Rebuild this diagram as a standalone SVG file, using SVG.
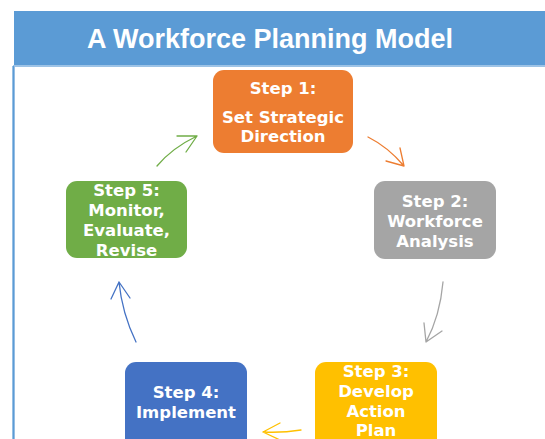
<svg xmlns="http://www.w3.org/2000/svg" width="545" height="439" viewBox="0 0 545 439">
  <style>
    .title { font-family: "Liberation Sans", Arial, sans-serif; font-weight: bold; font-size: 27px; fill: #ffffff; text-anchor: middle; }
    .lbl { font-family: "DejaVu Sans", Verdana, sans-serif; font-weight: bold; font-size: 16.5px; fill: #ffffff; text-anchor: middle; }
    .box { stroke: none; }
    .conn path { fill: none; stroke-width: 1.3; stroke-linecap: round; stroke-linejoin: round; }
  </style>

  <rect x="0" y="0" width="545" height="439" fill="#ffffff"/>

  <!-- header band -->
  <g id="header">
    <rect x="14" y="11" width="531" height="55" fill="#5B9BD5"/>
    <text class="title" x="270" y="48">A Workforce Planning Model</text>
  </g>

  <!-- frame around the content area -->
  <g id="frame">
    <line x1="13" y1="66" x2="545" y2="66" stroke="#9DC3E6" stroke-width="2"/>
    <line x1="13.5" y1="66" x2="13.5" y2="439" stroke="#9DC3E6" stroke-width="3"/>
    <line x1="13.5" y1="66" x2="13.5" y2="439" stroke="#5B9BD5" stroke-width="1.2"/>
  </g>

  <!-- steps -->
  <g id="step1">
    <rect class="box" x="213" y="70" width="140" height="83" rx="11" fill="#ED7D31"/>
    <text class="lbl" x="283" y="94">Step 1:</text>
    <text class="lbl" x="283" y="123">Set Strategic</text>
    <text class="lbl" x="283" y="142">Direction</text>
  </g>

  <g id="step2">
    <rect class="box" x="374" y="181" width="122" height="78" rx="11" fill="#A5A5A5"/>
    <text class="lbl" x="435" y="207">Step 2:</text>
    <text class="lbl" x="435" y="227">Workforce</text>
    <text class="lbl" x="435" y="247">Analysis</text>
  </g>

  <g id="step3">
    <rect class="box" x="315" y="362" width="122" height="90" rx="11" fill="#FFC000"/>
    <text class="lbl" x="376" y="377">Step 3:</text>
    <text class="lbl" x="376" y="397">Develop</text>
    <text class="lbl" x="376" y="417">Action</text>
    <text class="lbl" x="376" y="436">Plan</text>
  </g>

  <g id="step4">
    <rect class="box" x="125" y="362" width="122" height="90" rx="11" fill="#4472C4"/>
    <text class="lbl" x="186" y="398">Step 4:</text>
    <text class="lbl" x="186" y="418">Implement</text>
  </g>

  <g id="step5">
    <rect class="box" x="66" y="181" width="121" height="77" rx="11" fill="#70AD47"/>
    <text class="lbl" x="126.5" y="196">Step 5:</text>
    <text class="lbl" x="126.5" y="216">Monitor,</text>
    <text class="lbl" x="126.5" y="236">Evaluate,</text>
    <text class="lbl" x="126.5" y="256">Revise</text>
  </g>

  <!-- curved connectors with open arrowheads -->
  <g id="connectors" class="conn">
    <path stroke="#ED7D31" d="M368,137 Q388,147 404,166 M400,148 L404,166 L386,161"/>
    <path stroke="#A5A5A5" d="M443,282 Q440,316 426,342 M424,323 L426,342 L442,331"/>
    <path stroke="#FFC000" d="M301,430 Q282,433 263,432 M280,423 L263,432 L280,440"/>
    <path stroke="#4472C4" d="M136,342 Q122,313 119,282 M111,299 L119,282 L130,298"/>
    <path stroke="#70AD47" d="M157,166 Q172,148 197,136 M177,136 L197,136 L186,152"/>
  </g>
</svg>
